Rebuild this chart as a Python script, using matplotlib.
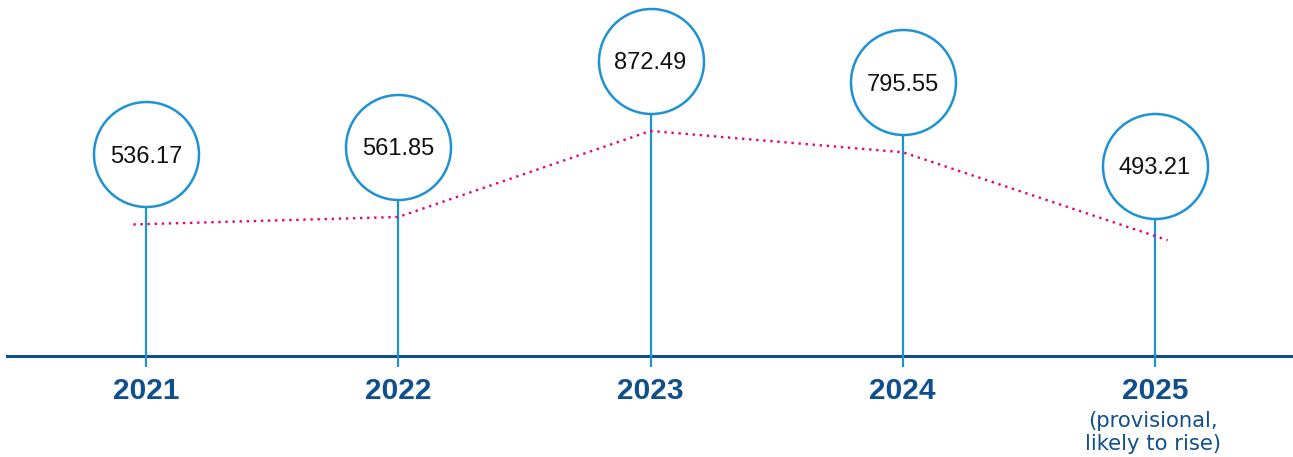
import matplotlib.pyplot as plt

years = ["2021", "2022", "2023", "2024", "2025"]
values = [536.17, 561.85, 872.49, 795.55, 493.21]
value_labels = ["536.17", "561.85", "872.49", "795.55", "493.21"]
notes = ["", "", "", "", "(provisional,\nlikely to rise)"]

DARK_BLUE = "#0f4f8c"
LIGHT_BLUE = "#1f93d2"
PINK = "#e5007d"

# layout constants (pixels -> data units)
W, H = 1293, 457
STEP_PX = 252.25
FIRST_X_PX = 146
BASE_PX = 101          # baseline height from bottom
PX_PER_UNIT = 0.277    # pixels per value unit
CIRCLE_OFFSET = 193    # circle centre sits value + offset above baseline
LINE_OFFSET = -60      # pink trend line sits value + offset

fig = plt.figure(figsize=(W / 100, H / 100), dpi=100)
ax = fig.add_axes([0, 0, 1, 1])
ax.set_xlim(-FIRST_X_PX / STEP_PX, (W - FIRST_X_PX) / STEP_PX)
ax.set_ylim(-BASE_PX / PX_PER_UNIT, (H - BASE_PX) / PX_PER_UNIT)
ax.axis("off")

xs = list(range(len(years)))
centres = [v + CIRCLE_OFFSET for v in values]

# baseline
ax.axhline(0, xmin=7 / W, xmax=1, color=DARK_BLUE, lw=2.2, zorder=2)

# stems
ax.vlines(xs, -40, centres, color=LIGHT_BLUE, lw=1.6, zorder=3)

# trend line, stretched a little beyond first and last stem
trend = [v + LINE_OFFSET for v in values]
ext = 0.05
lx = [xs[0] - ext] + xs[1:-1] + [xs[-1] + ext]
ly = list(trend)
ly[0] = trend[0] - ext * (trend[1] - trend[0])
ly[-1] = trend[-1] + ext * (trend[-1] - trend[-2])
ax.plot(lx, ly, color=PINK, lw=1.7, linestyle=(0, (1, 2)), zorder=4)

# circles with values
ax.scatter(xs, centres, s=75.6 ** 2, facecolor="white", edgecolor=LIGHT_BLUE,
           linewidth=1.8, zorder=5)
for x, c, lab in zip(xs, centres, value_labels):
    ax.annotate(lab, (x, c), xytext=(0, -1.8), textcoords="offset points",
                ha="center", va="center", fontsize=17,
                family="Liberation Sans", color="#111111", zorder=6)

# year labels
for x, yr, note in zip(xs, years, notes):
    ax.annotate(yr, (x, 0), xytext=(0, -25.2), textcoords="offset points",
                ha="center", va="center", fontsize=21.5, fontweight="bold",
                family="Liberation Sans", color=DARK_BLUE)
    if note:
        ax.annotate(note, (x, 0), xytext=(-1.5, -39.5), textcoords="offset points",
                    ha="center", va="top", fontsize=15.2, linespacing=1.22,
                    family="DejaVu Sans", color=DARK_BLUE)

fig.savefig("out.png", dpi=100)
